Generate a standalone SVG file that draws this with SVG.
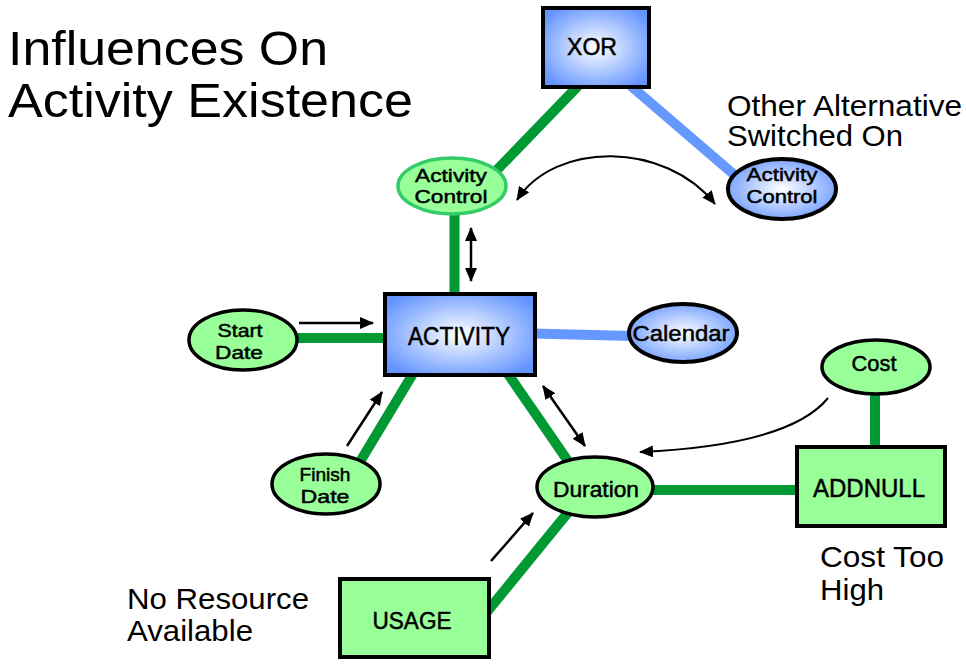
<svg xmlns="http://www.w3.org/2000/svg" width="966" height="665" viewBox="0 0 966 665">
<style>
.lbl{font-family:"Liberation Sans",Arial,sans-serif;fill:#000}
.big{font-size:29px}
.node{font-family:"Liberation Sans",Arial,sans-serif;fill:#000;stroke:#000;stroke-width:0.5;text-anchor:middle}
.gline{stroke:#009933;stroke-width:10;fill:none}
.bline{stroke:#6699ff;stroke-width:10;fill:none}
.arr{stroke:#000;stroke-width:2.5;fill:none}
.arrt{stroke:#000;stroke-width:2;fill:none}
.blueN{fill:url(#bg);stroke:#000;stroke-width:4}
.greenN{fill:#99ff99;stroke:#000;stroke-width:4}
.greenE{fill:#99ff99;stroke:#000;stroke-width:3.5}
</style>
<defs>
<radialGradient id="bg" cx="0.5" cy="0.5" r="0.6">
<stop offset="0" stop-color="#ffffff"/>
<stop offset="1" stop-color="#6495ff"/>
</radialGradient>
<marker id="ah" viewBox="0 0 14 12" refX="13" refY="6" markerWidth="14" markerHeight="12" markerUnits="userSpaceOnUse" orient="auto-start-reverse">
<path d="M0,0 L14,6 L0,12 z" fill="#000"/>
</marker>
</defs>
<rect width="966" height="665" fill="#fff"/>

<g id="title">
<text class="lbl" x="8" y="65" font-size="49" textLength="320" lengthAdjust="spacingAndGlyphs">Influences On</text>
<text class="lbl" x="8" y="117" font-size="49" textLength="405" lengthAdjust="spacingAndGlyphs">Activity Existence</text>
</g>
<g id="labels">
<text class="lbl big" x="727" y="116" textLength="235" lengthAdjust="spacingAndGlyphs">Other Alternative</text>
<text class="lbl big" x="727" y="146" textLength="176" lengthAdjust="spacingAndGlyphs">Switched On</text>
<text class="lbl big" x="127" y="609" textLength="182" lengthAdjust="spacingAndGlyphs">No Resource</text>
<text class="lbl big" x="127" y="641" textLength="126" lengthAdjust="spacingAndGlyphs">Available</text>
<text class="lbl big" x="820" y="567" textLength="124" lengthAdjust="spacingAndGlyphs">Cost Too</text>
<text class="lbl big" x="820" y="600" textLength="64" lengthAdjust="spacingAndGlyphs">High</text>
</g>

<g id="connectors">
<line class="gline" x1="578" y1="86" x2="492" y2="175"/>
<line class="bline" x1="631" y1="86" x2="738" y2="178"/>
<line class="gline" x1="454.5" y1="212" x2="454.5" y2="296"/>
<line class="gline" x1="295" y1="338" x2="390" y2="338"/>
<line class="bline" x1="533" y1="333.5" x2="632" y2="336"/>
<line class="gline" x1="355" y1="470" x2="414" y2="372"/>
<line class="gline" x1="506" y1="371" x2="570" y2="464"/>
<line class="gline" x1="650" y1="490" x2="800" y2="490"/>
<line class="gline" x1="875" y1="392" x2="875" y2="449"/>
<line class="gline" x1="486" y1="613" x2="570" y2="510"/>
<line class="arr" x1="299" y1="323" x2="373" y2="323" marker-end="url(#ah)"/>
<line class="arr" x1="347" y1="446" x2="382" y2="392" marker-end="url(#ah)"/>
<line class="arr" x1="471" y1="228" x2="471" y2="281" marker-start="url(#ah)" marker-end="url(#ah)"/>
<line class="arr" x1="543" y1="386" x2="585" y2="446" marker-start="url(#ah)" marker-end="url(#ah)"/>
<line class="arr" x1="491" y1="561" x2="533" y2="513" marker-end="url(#ah)"/>
<path class="arrt" d="M828,398 Q790,445 640,452" marker-end="url(#ah)"/>
<path class="arrt" d="M517,200 C555,141 665,141 715,204" marker-start="url(#ah)" marker-end="url(#ah)"/>
</g>

<g id="xor">
<rect class="blueN" x="543" y="8" width="106" height="79"/>
<text class="node" x="592" y="55" font-size="24" textLength="50" lengthAdjust="spacingAndGlyphs">XOR</text>
</g>
<g id="activity-control-left">
<ellipse cx="452" cy="186" rx="54" ry="28" fill="#99ff99" stroke="#33cc66" stroke-width="3.5"/>
<text class="node" x="451" y="182" font-size="19" textLength="72" lengthAdjust="spacingAndGlyphs">Activity</text>
<text class="node" x="451" y="203" font-size="19" textLength="73" lengthAdjust="spacingAndGlyphs">Control</text>
</g>
<g id="activity-control-right">
<ellipse class="blueN" cx="782" cy="189" rx="54" ry="30" stroke-width="3.5"/>
<text class="node" x="782" y="181" font-size="19" textLength="71" lengthAdjust="spacingAndGlyphs">Activity</text>
<text class="node" x="782" y="203" font-size="19" textLength="71" lengthAdjust="spacingAndGlyphs">Control</text>
</g>
<g id="activity">
<rect class="blueN" x="385" y="294" width="150" height="81"/>
<text class="node" x="459" y="345" font-size="25" textLength="102" lengthAdjust="spacingAndGlyphs">ACTIVITY</text>
</g>
<g id="start-date">
<ellipse class="greenE" cx="243" cy="340" rx="54" ry="30"/>
<text class="node" x="240" y="337" font-size="19" textLength="45" lengthAdjust="spacingAndGlyphs">Start</text>
<text class="node" x="239" y="359" font-size="19" textLength="48" lengthAdjust="spacingAndGlyphs">Date</text>
</g>
<g id="finish-date">
<ellipse class="greenE" cx="326" cy="484" rx="54" ry="30"/>
<text class="node" x="325" y="481" font-size="19" textLength="51" lengthAdjust="spacingAndGlyphs">Finish</text>
<text class="node" x="325" y="503" font-size="19" textLength="49" lengthAdjust="spacingAndGlyphs">Date</text>
</g>
<g id="calendar">
<ellipse class="blueN" cx="683" cy="333" rx="54" ry="29" stroke-width="3.5"/>
<text class="node" x="681" y="341" font-size="22" textLength="97" lengthAdjust="spacingAndGlyphs">Calendar</text>
</g>
<g id="cost">
<ellipse class="greenE" cx="876" cy="367" rx="54" ry="27"/>
<text class="node" x="874" y="371" font-size="22" textLength="45" lengthAdjust="spacingAndGlyphs">Cost</text>
</g>
<g id="duration">
<ellipse class="greenE" cx="595" cy="487" rx="58" ry="30"/>
<text class="node" x="596" y="497" font-size="22" textLength="86" lengthAdjust="spacingAndGlyphs">Duration</text>
</g>
<g id="addnull">
<rect class="greenN" x="797" y="447" width="148" height="79"/>
<text class="node" x="869" y="497" font-size="25" textLength="112" lengthAdjust="spacingAndGlyphs">ADDNULL</text>
</g>
<g id="usage">
<rect class="greenN" x="340" y="579" width="149" height="78"/>
<text class="node" x="412" y="629" font-size="23" textLength="79" lengthAdjust="spacingAndGlyphs">USAGE</text>
</g>
</svg>
